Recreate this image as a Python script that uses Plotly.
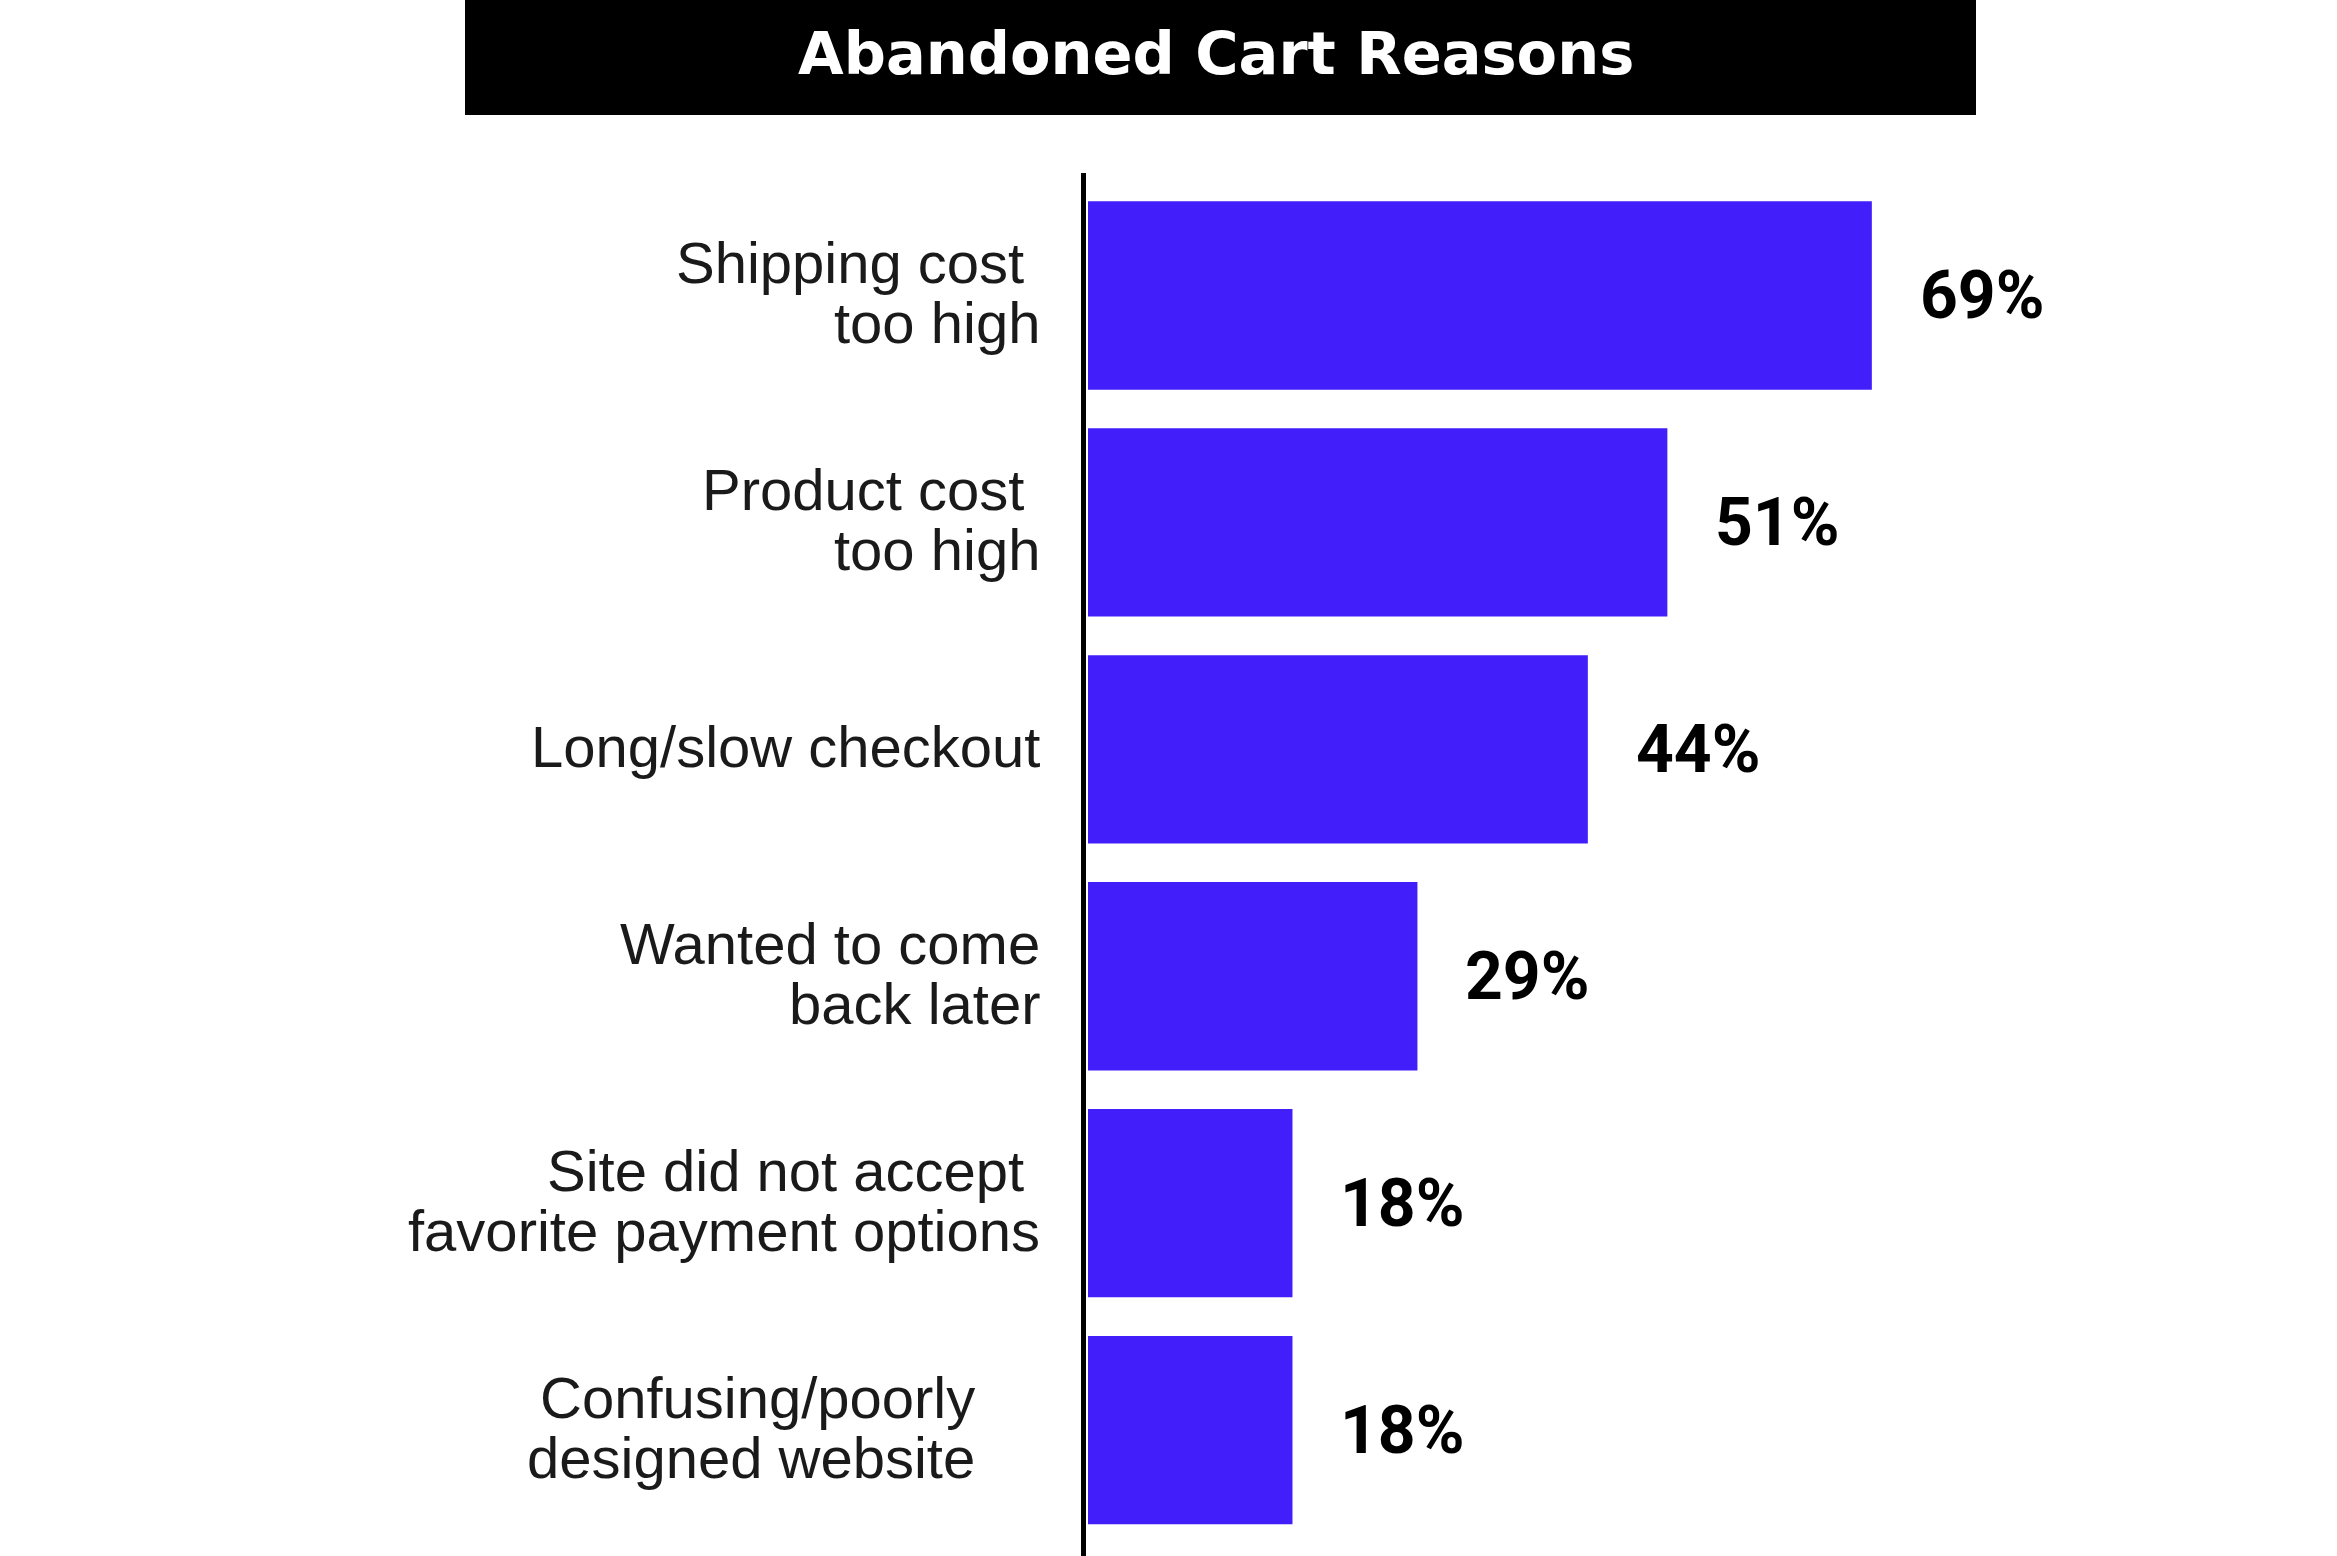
import plotly.graph_objects as go

# ---- data ----
title_text = "Abandoned Cart Reasons"
categories = [
    "Shipping cost\u00a0<br>too high",
    "Product cost\u00a0<br>too high",
    "Long/slow checkout",
    "Wanted to come<br>back later",
    "Site did not accept\u00a0<br>favorite payment options",
    "Confusing/poorly\u00a0\u00a0\u00a0\u00a0<br>designed website\u00a0\u00a0\u00a0\u00a0",
]
values = [69, 51, 44, 29, 18, 18]
value_labels = ["69%", "51%", "44%", "29%", "18%", "18%"]

# ---- layout constants ----
W, H = 2337, 1556
L, R, T, B = 1086, 0, 173, 0
PW, PH = W - L - R, H - T - B
PX_PER_UNIT = 11.36
X0 = -2 / PX_PER_UNIT
X1 = X0 + PW / PX_PER_UNIT
BAR_COLOR = "#421EFA"


def px_to_paper_x(px):
    return (px - L) / PW


def px_to_paper_y(py):
    return 1 - (py - T) / PH


fig = go.Figure()
fig.add_trace(
    go.Bar(
        x=values,
        y=categories,
        orientation="h",
        marker=dict(color=BAR_COLOR, line=dict(width=0)),
        width=0.83,
        hoverinfo="skip",
    )
)

annotations = []
LINE_PITCH = 60
for cat in categories:
    lines = cat.split("<br>")
    n = len(lines)
    for i, line in enumerate(lines):
        annotations.append(
            dict(
                x=0, xref="paper", y=cat, yref="y",
                text=line, showarrow=False,
                xanchor="right", yanchor="middle",
                xshift=-44,
                yshift=((n - 1) / 2 - i) * LINE_PITCH + 3,
                font=dict(family="Liberation Sans, Arial, sans-serif", size=58, color="#1a1a1a"),
            )
        )

for cat, v, lab in zip(categories, values, value_labels):
    annotations.append(
        dict(
            x=v, xref="x", y=cat, yref="y",
            text=lab, showarrow=False,
            xanchor="left", yanchor="middle", xshift=46,
            font=dict(family="Roboto, Liberation Sans, sans-serif",
                      size=66, color="#000000", weight=700),
        )
    )

annotations.append(
    dict(
        x=px_to_paper_x(1216), xref="paper", y=px_to_paper_y(54), yref="paper",
        text="<b>" + title_text + "</b>", showarrow=False,
        xanchor="center", yanchor="middle",
        font=dict(family="DejaVu Sans, sans-serif", size=59, color="#ffffff"),
    )
)

shapes = [
    dict(
        type="rect", xref="paper", yref="paper",
        x0=px_to_paper_x(465), x1=px_to_paper_x(1976),
        y0=px_to_paper_y(115), y1=px_to_paper_y(0),
        fillcolor="#000000", line=dict(width=0), layer="below",
    )
]

fig.update_layout(
    width=W, height=H,
    margin=dict(l=L, r=R, t=T, b=B, pad=0),
    paper_bgcolor="white", plot_bgcolor="white",
    showlegend=False,
    annotations=annotations,
    shapes=shapes,
    xaxis=dict(range=[X0, X1], visible=False, showgrid=False, zeroline=False, fixedrange=True),
    yaxis=dict(
        type="category",
        categoryorder="array", categoryarray=categories,
        range=[5.555, -0.54],
        showline=True, linecolor="#000000", linewidth=5,
        showticklabels=False, ticks="", showgrid=False, zeroline=False,
        fixedrange=True,
    ),
)

fig.write_html("out.html", config={"displayModeBar": False})
